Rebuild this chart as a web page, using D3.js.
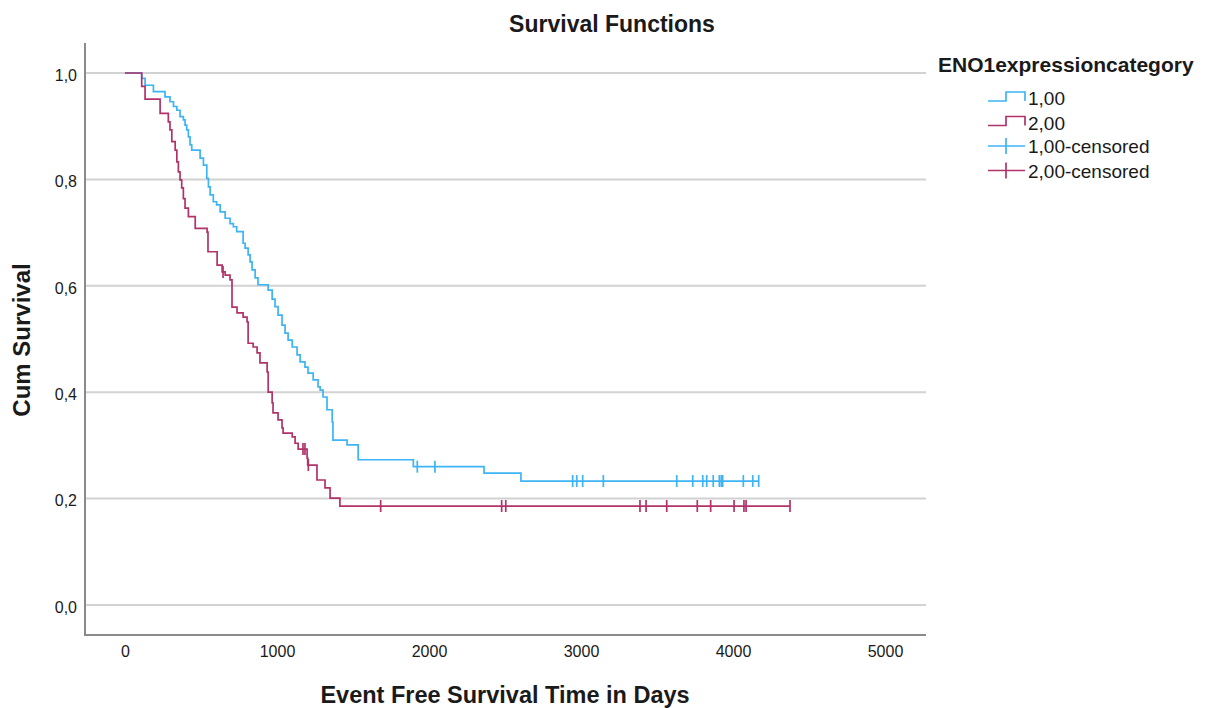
<!DOCTYPE html>
<html>
<head>
<meta charset="utf-8">
<script src="https://cdn.jsdelivr.net/npm/d3@7"></script>
<style>
  body { margin: 0; background: #fff; }
  svg text { font-family: "Liberation Sans", Arial, sans-serif; fill: #1a1a1a; }
</style>
</head>
<body>
<svg id="chart" width="1210" height="708"></svg>
<script>
// group 1,00 (blue): step times and survival after each step
const g1Times = [0, 110, 132, 187, 263, 296, 319, 341, 362, 384, 395, 406, 417, 428, 439, 494, 516, 538, 549, 560,
  581, 603, 626, 659, 691, 713, 735, 777, 790, 810, 823, 836, 856, 875, 942, 968, 987, 1007, 1033, 1053,
  1073, 1100, 1132, 1152, 1184, 1204, 1238, 1270, 1284, 1303, 1329, 1363, 1368, 1461, 1534, 1897, 2362, 2605];
const g1Surv = [1.0, 0.990, 0.977, 0.965, 0.955, 0.946, 0.937, 0.930, 0.918, 0.912, 0.902, 0.893, 0.880, 0.865, 0.855, 0.840, 0.827, 0.802, 0.786, 0.771,
  0.758, 0.752, 0.739, 0.727, 0.717, 0.711, 0.702, 0.680, 0.671, 0.658, 0.645, 0.630, 0.615, 0.602, 0.592, 0.575, 0.561, 0.545, 0.526, 0.511,
  0.498, 0.485, 0.470, 0.457, 0.447, 0.436, 0.423, 0.410, 0.404, 0.391, 0.367, 0.344, 0.310, 0.301, 0.273, 0.260, 0.248, 0.233];
const g1Censored = [1923, 2039, 2945, 2972, 3011, 3147, 3630, 3735, 3801, 3827, 3870, 3910, 3923, 3932, 4068, 4130, 4169];

// group 2,00 (red)
const g2Times = [0, 110, 132, 231, 285, 296, 308, 330, 341, 351, 362, 373, 384, 395, 417, 462, 540, 546, 606, 639,
  659, 691, 704, 737, 777, 803, 810, 843, 869, 888, 935, 942, 968, 974, 1007, 1033, 1040, 1100, 1119, 1139,
  1198, 1202, 1263, 1316, 1349, 1414];
const g2Surv = [1.0, 0.975, 0.951, 0.924, 0.908, 0.893, 0.871, 0.855, 0.833, 0.814, 0.799, 0.784, 0.764, 0.746, 0.730, 0.708, 0.701, 0.664, 0.639, 0.626,
  0.620, 0.611, 0.560, 0.549, 0.541, 0.532, 0.492, 0.485, 0.474, 0.455, 0.438, 0.400, 0.380, 0.361, 0.348, 0.333, 0.323, 0.316, 0.304, 0.293,
  0.276, 0.263, 0.235, 0.220, 0.201, 0.186];
const g2Censored = [645, 1171, 1184, 1206, 1682, 2478, 2505, 3388, 3428, 3564, 3765, 3853, 4007, 4072, 4086, 4375];

const xTicks = [0, 1000, 2000, 3000, 4000, 5000];
const yTicks = [0, 0.2, 0.4, 0.6, 0.8, 1.0];
const groupLabels = ["1,00", "2,00"];
const colors = ["#3db4f4", "#b1336a"];

const svg = d3.select("#chart");

const x = d3.scaleLinear().domain([0, 5000]).range([125, 885]);
const y = d3.scaleLinear().domain([0, 1]).range([605, 73]);

const plotLeft = 85, plotRight = 926, plotTop = 43, plotBottom = 635;

const locale = d3.formatLocale({decimal: ",", thousands: "", grouping: [3], currency: ["", ""]});
const fmtY = locale.format(".1f");

// gridlines
svg.append("g").selectAll("line")
    .data(yTicks)
    .enter().append("line")
    .attr("x1", plotLeft).attr("x2", plotRight)
    .attr("y1", d => y(d)).attr("y2", d => y(d))
    .attr("stroke", "#d2d2d2")
    .attr("stroke-width", 2);

// y tick labels
const yAxis = d3.axisLeft(y).tickValues(yTicks).tickFormat(fmtY).tickSize(0).tickPadding(8);
const gy = svg.append("g").attr("transform", `translate(${plotLeft},0)`).call(yAxis);
gy.select(".domain").remove();
gy.selectAll("text").style("font-size", "16px").attr("font-family", null).attr("dy", "0.45em");

// x tick labels
const xAxis = d3.axisBottom(x).tickValues(xTicks).tickFormat(d3.format("d")).tickSize(0).tickPadding(11);
const gx = svg.append("g").attr("transform", `translate(0,${plotBottom})`).call(xAxis);
gx.select(".domain").remove();
gx.selectAll("text").style("font-size", "16px").attr("font-family", null);

// frame lines
svg.append("line").attr("x1", plotLeft).attr("x2", plotLeft).attr("y1", plotTop).attr("y2", plotBottom)
    .attr("stroke", "#8a8a8a").attr("stroke-width", 2);
svg.append("line").attr("x1", plotLeft - 1).attr("x2", plotRight).attr("y1", plotBottom).attr("y2", plotBottom)
    .attr("stroke", "#8a8a8a").attr("stroke-width", 2);

// survival curves
function stepValue(times, surv, t) {
    let i = d3.bisectRight(times, t) - 1;
    return surv[Math.max(i, 0)];
}

const line = d3.line()
    .x(d => x(d[0]))
    .y(d => y(d[1]))
    .curve(d3.curveStepAfter);

const groups = [
    {times: g1Times, surv: g1Surv, cens: g1Censored},
    {times: g2Times, surv: g2Surv, cens: g2Censored}
];

groups.forEach((g, k) => {
    const pts = g.times.map((t, i) => [t, g.surv[i]]);
    const end = d3.max(g.cens);
    pts.push([end, g.surv[g.surv.length - 1]]);

    svg.append("path")
        .datum(pts)
        .attr("fill", "none")
        .attr("stroke", colors[k])
        .attr("stroke-width", 1.7)
        .attr("d", line);

    svg.append("g").selectAll("line")
        .data(g.cens)
        .enter().append("line")
        .attr("x1", d => x(d)).attr("x2", d => x(d))
        .attr("y1", d => y(stepValue(g.times, g.surv, d)) - 6)
        .attr("y2", d => y(stepValue(g.times, g.surv, d)) + 6)
        .attr("stroke", colors[k])
        .attr("stroke-width", 1.7);
});

// titles
svg.append("text")
    .attr("x", 612).attr("y", 32)
    .attr("text-anchor", "middle")
    .style("font-size", "23px").style("font-weight", "bold")
    .text("Survival Functions");

svg.append("text")
    .attr("transform", "translate(30,340) rotate(-90)")
    .attr("text-anchor", "middle")
    .style("font-size", "24px").style("font-weight", "bold")
    .text("Cum Survival");

svg.append("text")
    .attr("x", 505).attr("y", 703)
    .attr("text-anchor", "middle")
    .style("font-size", "23.5px").style("font-weight", "bold")
    .text("Event Free Survival Time in Days");

// legend
const legend = svg.append("g");
legend.append("text")
    .attr("x", 938).attr("y", 72)
    .style("font-size", "21px").style("font-weight", "bold")
    .text("ENO1expressioncategory");

const lx0 = 988, lx1 = 1025, lmid = 1006;
groupLabels.forEach((lab, k) => {
    const cy = 97 + k * 24.5;
    legend.append("path")
        .attr("d", `M${lx0},${cy + 4}H${lmid}V${cy - 5}H${lx1}V${cy + 4}`)
        .attr("fill", "none").attr("stroke", colors[k]).attr("stroke-width", 1.7);
    legend.append("text")
        .attr("x", 1028).attr("y", cy + 8)
        .style("font-size", "19px")
        .text(lab);
});
groupLabels.forEach((lab, k) => {
    const cy = 146 + k * 24.5;
    legend.append("line")
        .attr("x1", lx0).attr("x2", lx1).attr("y1", cy).attr("y2", cy)
        .attr("stroke", colors[k]).attr("stroke-width", 1.7);
    legend.append("line")
        .attr("x1", lmid).attr("x2", lmid).attr("y1", cy - 8).attr("y2", cy + 8)
        .attr("stroke", colors[k]).attr("stroke-width", 1.7);
    legend.append("text")
        .attr("x", 1028).attr("y", cy + 7)
        .style("font-size", "19px")
        .text(lab + "-censored");
});
</script>
</body>
</html>
